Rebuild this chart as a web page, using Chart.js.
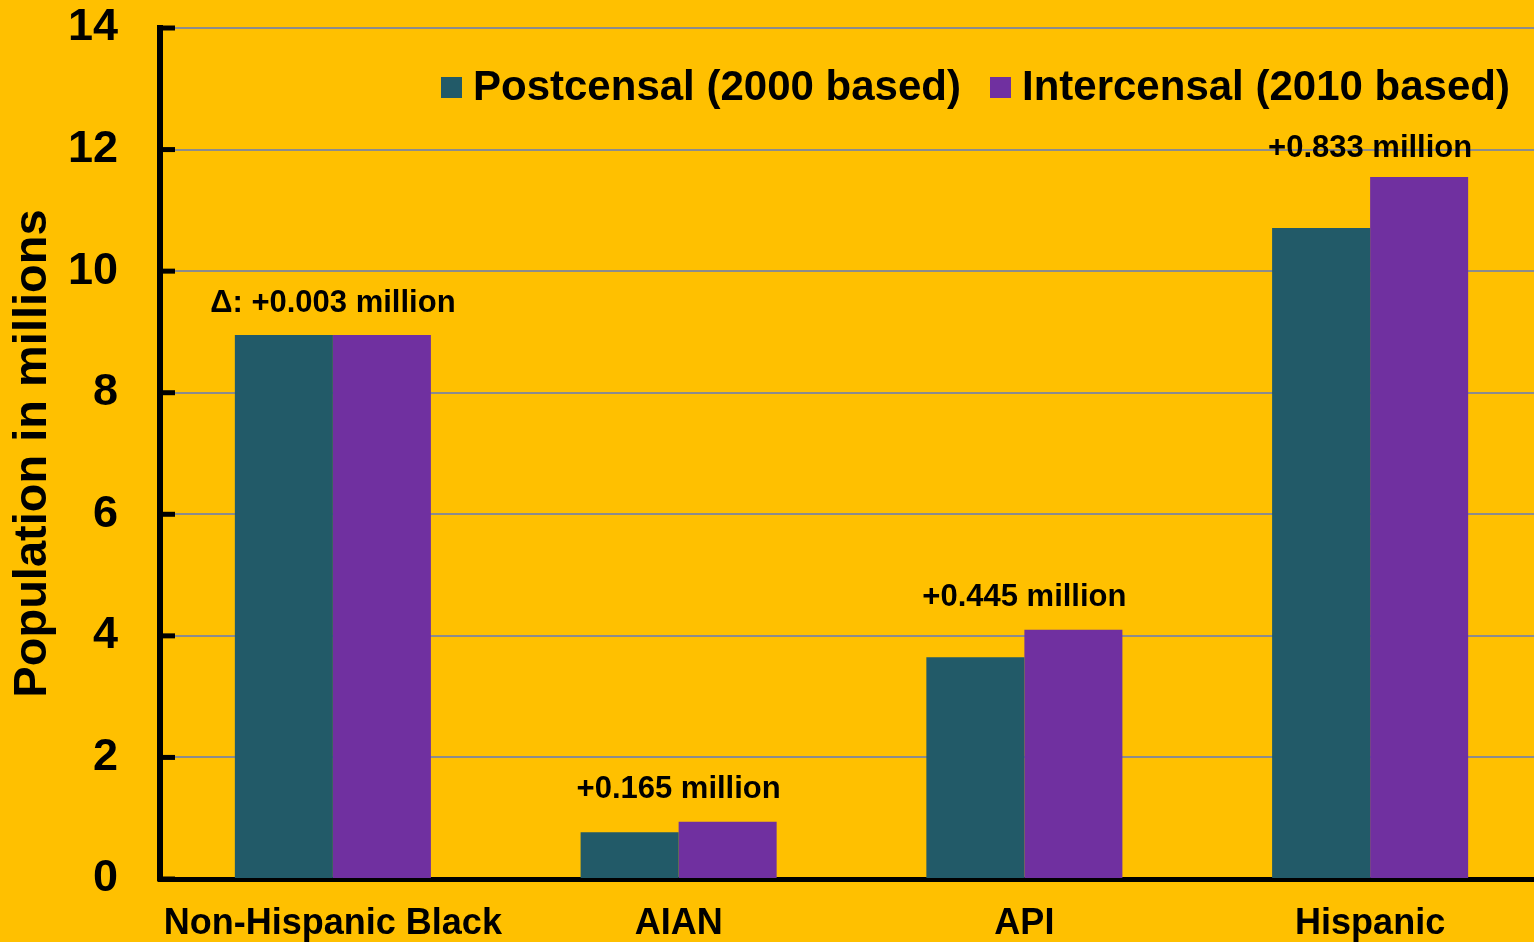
<!DOCTYPE html>
<html><head><meta charset="utf-8">
<script src="https://cdn.jsdelivr.net/npm/chart.js@4/dist/chart.umd.min.js"></script>
<style>
html,body{margin:0;padding:0;background:#FFC000;overflow:hidden;}
#wrap{position:absolute;left:0;top:0;width:1545px;height:942px;}
</style></head><body>
<div id="wrap"><canvas id="c" width="1545" height="942"></canvas></div>
<script>
const categories = ["Non-Hispanic Black", "AIAN", "API", "Hispanic"];
const postcensal = [8.95, 0.77, 3.65, 10.71];
const intercensal = [8.95, 0.94, 4.10, 11.55];
const deltaLabels = ["\u0394: +0.003 million", "+0.165 million", "+0.445 million", "+0.833 million"];
const seriesNames = ["Postcensal (2000 based)", "Intercensal (2010 based)"];
const yTicks = [0, 2, 4, 6, 8, 10, 12, 14];
const yTitle = "Population in millions";

const FONT = "'Liberation Sans', Arial, sans-serif";
const TEAL = "#225A68", PURPLE = "#7030A0";

const overlay = {
  id: 'overlay',
  afterDatasetsDraw(chart) {
    const ctx = chart.ctx, y = chart.scales.y, x = chart.scales.x, ca = chart.chartArea;
    ctx.save();
    // inward tick marks
    ctx.strokeStyle = '#000'; ctx.lineWidth = 5;
    yTicks.forEach(v => {
      const py = y.getPixelForValue(v);
      ctx.beginPath(); ctx.moveTo(ca.left - 3, py); ctx.lineTo(ca.left + 15, py); ctx.stroke();
    });
    // delta labels
    ctx.fillStyle = '#000'; ctx.font = "bold 31px " + FONT;
    ctx.textAlign = 'center'; ctx.textBaseline = 'middle';
    categories.forEach((c, i) => {
      const top = Math.max(postcensal[i], intercensal[i]);
      const off = (i === categories.length - 1) ? 28 : 32;
      ctx.fillText(deltaLabels[i], x.getPixelForValue(i), y.getPixelForValue(top) - off);
    });
    // legend
    ctx.font = "bold 42px " + FONT; ctx.textAlign = 'left';
    const items = [[441, TEAL, seriesNames[0]], [990, PURPLE, seriesNames[1]]];
    items.forEach(([lx, col, name]) => {
      ctx.fillStyle = col; ctx.fillRect(lx, 77, 21, 21);
      ctx.fillStyle = '#000'; ctx.fillText(name, lx + 32, 88);
    });
    ctx.restore();
  }
};

new Chart(document.getElementById('c'), {
  type: 'bar',
  data: {
    labels: categories,
    datasets: [
      {label: seriesNames[0], data: postcensal, backgroundColor: TEAL, categoryPercentage: 0.567, barPercentage: 1.0},
      {label: seriesNames[1], data: intercensal, backgroundColor: PURPLE, categoryPercentage: 0.567, barPercentage: 1.0}
    ]
  },
  options: {
    responsive: false, animation: false,
    layout: {padding: {top: 28, right: 2, left: 0, bottom: 0}},
    plugins: {legend: {display: false}, tooltip: {enabled: false}},
    scales: {
      x: {
        grid: {display: false, drawTicks: false},
        border: {color: '#000', width: 5},
        ticks: {color: '#000', font: {family: FONT, size: 36, weight: 'bold'}, padding: 23, maxRotation: 0, autoSkip: false},
        afterFit(s) { s.height = 63; s.paddingLeft = 0; s.paddingRight = 0; }
      },
      y: {
        min: 0, max: 14,
        afterBuildTicks(s) { s.ticks = yTicks.map(v => ({value: v})); },
        grid: {color: '#8c8c8c', lineWidth: 2, drawTicks: false},
        border: {color: '#000', width: 6},
        ticks: {color: '#000', font: {family: FONT, size: 45, weight: 'bold'}, padding: 42},
        title: {display: true, text: yTitle, color: '#000', font: {family: FONT, size: 47, weight: 'bold'}, padding: {top: 5, bottom: 0}},
        afterFit(s) { s.width = 160; s.paddingTop = 0; s.paddingBottom = 0; }
      }
    }
  },
  plugins: [overlay]
});
</script>
</body></html>
